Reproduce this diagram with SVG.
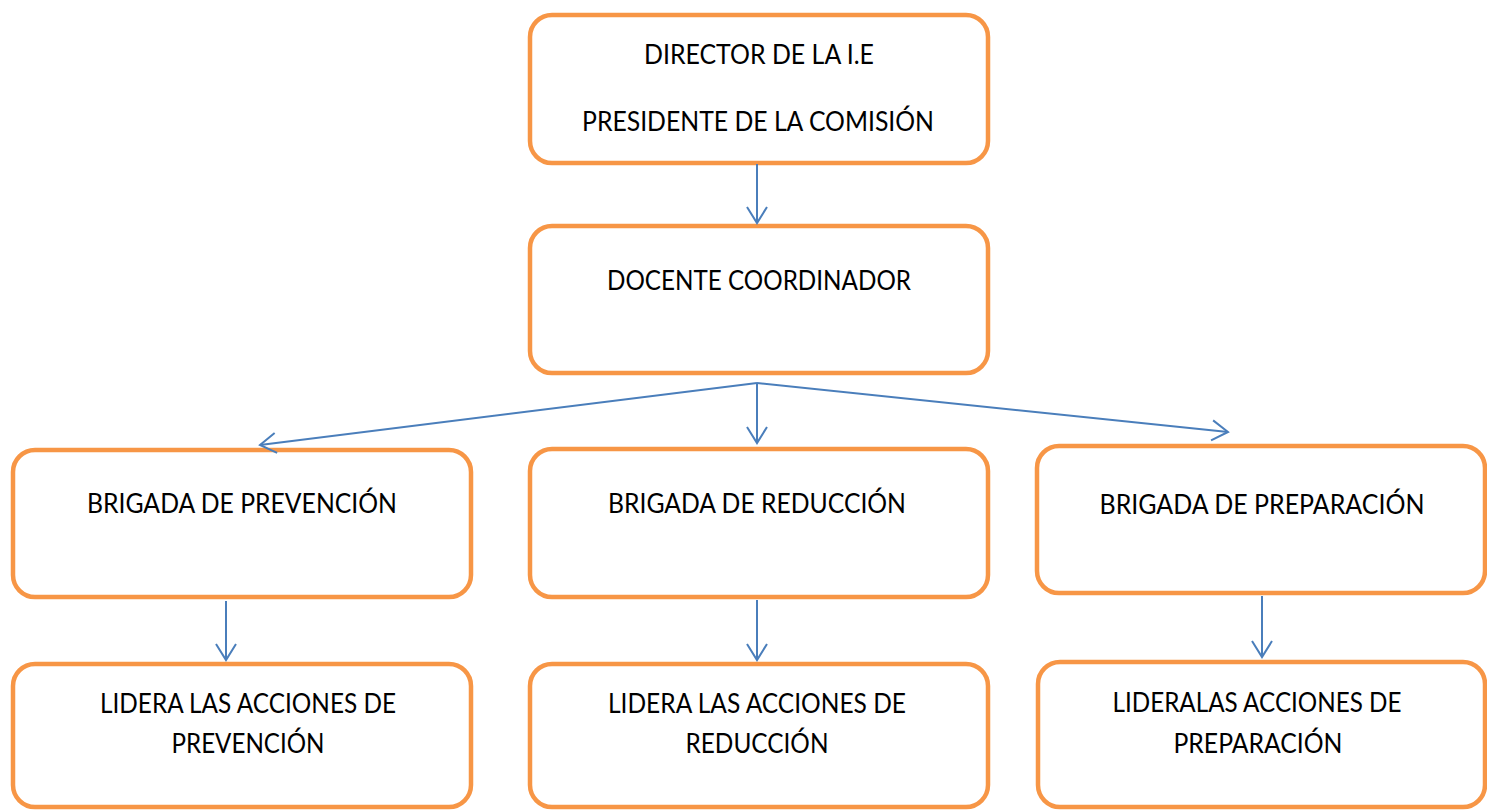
<svg xmlns="http://www.w3.org/2000/svg" width="1487" height="810" viewBox="0 0 1487 810">
<style>
.box{fill:#ffffff;stroke:#F79646;stroke-width:4.5}
.t{font-family:Lato,"Open Sans","Liberation Sans",sans-serif;font-size:26px;fill:#000000;text-anchor:middle}
.c{fill:none;stroke:#4A7EBB;stroke-width:2}
</style>
<defs>
<marker id="ah" viewBox="0 0 20 20" refX="18" refY="10" markerWidth="20" markerHeight="20" markerUnits="userSpaceOnUse" orient="auto" overflow="visible">
<path d="M2,0 L18,10 L2,20" fill="none" stroke="#4A7EBB" stroke-width="2"/>
</marker>
</defs>
<rect width="1487" height="810" fill="#ffffff"/>
<g id="director">
<rect class="box" x="530" y="15" width="458" height="148" rx="22"/>
<text class="t" x="759" y="64" textLength="230" lengthAdjust="spacingAndGlyphs">DIRECTOR DE LA I.E</text>
<text class="t" x="758" y="131" textLength="352" lengthAdjust="spacingAndGlyphs">PRESIDENTE DE LA COMISIÓN</text>
</g>
<g id="coordinador">
<rect class="box" x="530" y="226" width="458" height="147" rx="22"/>
<text class="t" x="759" y="290" textLength="304" lengthAdjust="spacingAndGlyphs">DOCENTE COORDINADOR</text>
</g>
<g id="brigada-prevencion">
<rect class="box" x="13" y="450" width="458" height="147" rx="22"/>
<text class="t" x="242" y="513" textLength="310" lengthAdjust="spacingAndGlyphs">BRIGADA DE PREVENCIÓN</text>
</g>
<g id="brigada-reduccion">
<rect class="box" x="530" y="449" width="458" height="148" rx="22"/>
<text class="t" x="757" y="513" textLength="298" lengthAdjust="spacingAndGlyphs">BRIGADA DE REDUCCIÓN</text>
</g>
<g id="brigada-preparacion">
<rect class="box" x="1037" y="446" width="448" height="147" rx="22"/>
<text class="t" x="1262" y="514" textLength="325" lengthAdjust="spacingAndGlyphs">BRIGADA DE PREPARACIÓN</text>
</g>
<g id="acciones-prevencion">
<rect class="box" x="13" y="664" width="458" height="143" rx="22"/>
<text class="t" x="248" y="713" textLength="296" lengthAdjust="spacingAndGlyphs">LIDERA LAS ACCIONES DE</text>
<text class="t" x="248" y="753" textLength="153" lengthAdjust="spacingAndGlyphs">PREVENCIÓN</text>
</g>
<g id="acciones-reduccion">
<rect class="box" x="530" y="664" width="458" height="143" rx="22"/>
<text class="t" x="757" y="713" textLength="298" lengthAdjust="spacingAndGlyphs">LIDERA LAS ACCIONES DE</text>
<text class="t" x="757" y="753" textLength="143" lengthAdjust="spacingAndGlyphs">REDUCCIÓN</text>
</g>
<g id="acciones-preparacion">
<rect class="box" x="1038" y="662" width="447" height="145" rx="22"/>
<text class="t" x="1257" y="712" textLength="289" lengthAdjust="spacingAndGlyphs">LIDERALAS ACCIONES DE</text>
<text class="t" x="1258" y="753" textLength="169" lengthAdjust="spacingAndGlyphs">PREPARACIÓN</text>
</g>
<g id="connectors">
<path class="c" d="M757,164 L757,223" marker-end="url(#ah)"/>
<path class="c" d="M757,383 L260,445" marker-end="url(#ah)"/>
<path class="c" d="M757,383 L757,443" marker-end="url(#ah)"/>
<path class="c" d="M757,383 L1228,432" marker-end="url(#ah)"/>
<path class="c" d="M226,601 L226,660" marker-end="url(#ah)"/>
<path class="c" d="M757,600 L757,660" marker-end="url(#ah)"/>
<path class="c" d="M1262,596 L1262,657" marker-end="url(#ah)"/>
</g>
</svg>
